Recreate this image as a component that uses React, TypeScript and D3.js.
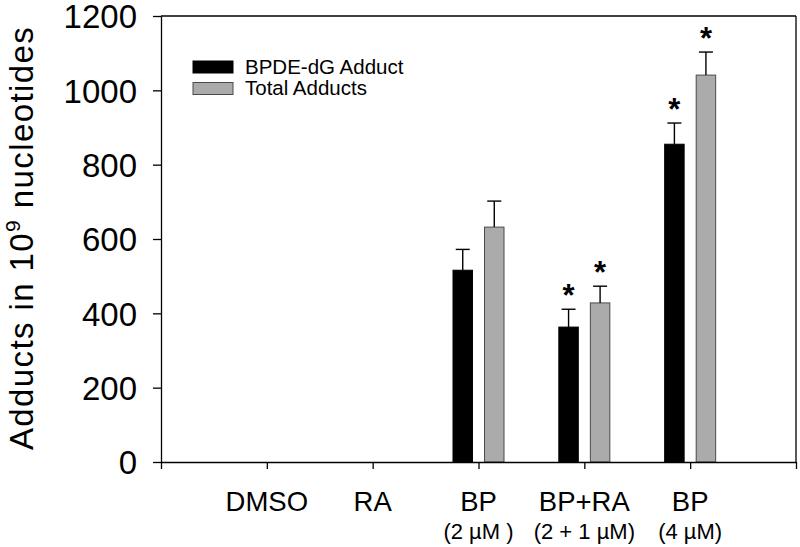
import React, { useEffect, useRef } from 'react';
import * as d3 from 'd3';

// categories along the x axis (positions 1..5 on a 0..6 axis)
const categories = ['DMSO', 'RA', 'BP', 'BP+RA', 'BP'];
const subLabels = ['', '', '(2 µM )', '(2 + 1 µM)', '(4 µM)'];

// BPDE-dG adduct (black bars)
const bpdeValues = [null, null, 516, 363, 855];
const bpdeErrors = [null, null, 56, 48, 57];
const bpdeStar = [false, false, false, true, true];

// total adducts (gray bars)
const totalValues = [null, null, 632, 428, 1041];
const totalErrors = [null, null, 70, 45, 62];
const totalStar = [false, false, false, true, true];

const yTicks = [0, 200, 400, 600, 800, 1000, 1200];
const xTicks = [0, 1, 2, 3, 4, 5, 6];

const legendItems = ['BPDE-dG Adduct', 'Total Adducts'];

const App = () => {
  const svgRef = useRef(null);

  useEffect(() => {
    const svg = d3.select(svgRef.current);
    svg.selectAll('*').remove();

    const font = '"Liberation Sans", Arial, Helvetica, sans-serif';
    const left = 161, right = 796, top = 16, bottom = 462;

    const x = d3.scaleLinear().domain([0, 6]).range([left, right]);
    const y = d3.scaleLinear().domain([0, 1200]).range([bottom, top]);

    const barW = 0.184;   // bar width in axis units
    const gap = 0.057;    // half gap between the pair

    const series = [
      { values: bpdeValues, errors: bpdeErrors, stars: bpdeStar, fill: '#000000', stroke: '#000000', x0: -gap - barW },
      { values: totalValues, errors: totalErrors, stars: totalStar, fill: '#ababab', stroke: '#4a4a4a', x0: gap },
    ];

    series.forEach(s => {
      const rows = s.values
        .map((v, i) => ({ v, e: s.errors[i], star: s.stars[i], pos: i + 1 }))
        .filter(d => d.v != null);

      const g = svg.append('g');

      g.selectAll('rect')
        .data(rows)
        .enter().append('rect')
        .attr('x', d => x(d.pos + s.x0))
        .attr('y', d => y(d.v))
        .attr('width', d => x(d.pos + s.x0 + barW) - x(d.pos + s.x0))
        .attr('height', d => y(0) - y(d.v))
        .attr('fill', s.fill)
        .attr('stroke', s.stroke)
        .attr('stroke-width', 1);

      // error bars (upper only)
      rows.forEach(d => {
        const cx = x(d.pos + s.x0 + barW / 2);
        g.append('line')
          .attr('x1', cx).attr('x2', cx)
          .attr('y1', y(d.v)).attr('y2', y(d.v + d.e))
          .attr('stroke', '#000').attr('stroke-width', 1.4);
        g.append('line')
          .attr('x1', cx - 7).attr('x2', cx + 7)
          .attr('y1', y(d.v + d.e)).attr('y2', y(d.v + d.e))
          .attr('stroke', '#000').attr('stroke-width', 1.4);
        if (d.star) {
          g.append('text')
            .attr('x', cx)
            .attr('y', y(d.v + d.e) - 20 + 17)
            .attr('text-anchor', 'middle')
            .style('font-family', font)
            .style('font-size', '31px')
            .style('font-weight', 'bold')
            .text('*');
        }
      });
    });

    // frame
    svg.append('line')
      .attr('x1', left).attr('x2', right).attr('y1', top).attr('y2', top)
      .attr('stroke', '#000').attr('stroke-width', 1.3);
    svg.append('line')
      .attr('x1', right).attr('x2', right).attr('y1', top).attr('y2', bottom)
      .attr('stroke', '#000').attr('stroke-width', 1.3);

    // y axis
    const yAxis = svg.append('g')
      .attr('transform', `translate(${left},0)`)
      .call(d3.axisLeft(y).tickValues(yTicks).tickSize(8).tickSizeOuter(0).tickFormat(d3.format('d')));
    yAxis.select('.domain').attr('stroke-width', 1.3);
    yAxis.selectAll('.tick line').attr('stroke-width', 1.3);
    yAxis.selectAll('.tick text')
      .attr('x', -24)
      .attr('dy', '0.355em')
      .style('font-family', font)
      .style('font-size', '33px')
      .attr('fill', '#000');

    // x axis
    const xAxis = svg.append('g')
      .attr('transform', `translate(0,${bottom})`)
      .call(d3.axisBottom(x).tickValues(xTicks).tickSize(7).tickSizeOuter(0).tickFormat(() => ''));
    xAxis.select('.domain').attr('stroke-width', 1.3);
    xAxis.selectAll('.tick line').attr('stroke-width', 1.3);

    // category labels
    svg.selectAll('.cat-label')
      .data(categories)
      .enter().append('text')
      .attr('class', 'cat-label')
      .attr('x', (d, i) => x(i + 1))
      .attr('y', 511)
      .attr('text-anchor', 'middle')
      .style('font-family', font)
      .style('font-size', '27.5px')
      .text(d => d);

    svg.selectAll('.sub-label')
      .data(subLabels)
      .enter().append('text')
      .attr('class', 'sub-label')
      .attr('x', (d, i) => x(i + 1))
      .attr('y', 539)
      .attr('text-anchor', 'middle')
      .style('font-family', font)
      .style('font-size', '22px')
      .text(d => d);

    // y axis title
    const title = svg.append('text')
      .attr('transform', 'translate(33,238) rotate(-90)')
      .attr('text-anchor', 'middle')
      .style('font-family', font)
      .style('font-size', '33px')
      .style('letter-spacing', '1.4px');
    title.append('tspan').text('Adducts in 10');
    title.append('tspan').attr('dy', -13).style('font-size', '21px').text('9');
    title.append('tspan').attr('dy', 13).text(' nucleotides');

    // legend
    const legend = svg.append('g');
    const swatch = [
      { fill: '#000000', stroke: '#000000' },
      { fill: '#ababab', stroke: '#4a4a4a' },
    ];
    legendItems.forEach((name, i) => {
      legend.append('rect')
        .attr('x', 193).attr('y', 61 + i * 21.5)
        .attr('width', 40).attr('height', 12)
        .attr('fill', swatch[i].fill)
        .attr('stroke', swatch[i].stroke);
      legend.append('text')
        .attr('x', 245).attr('y', 74 + i * 21)
        .style('font-family', font)
        .style('font-size', '20.5px')
        .text(name);
    });
  }, []);

  return (
    <div style={{ position: 'absolute', left: 0, top: 0, width: 800, height: 547, background: 'white' }}>
      <svg ref={svgRef} width={800} height={547} style={{ display: 'block', background: 'white' }} />
    </div>
  );
};

export default App;
